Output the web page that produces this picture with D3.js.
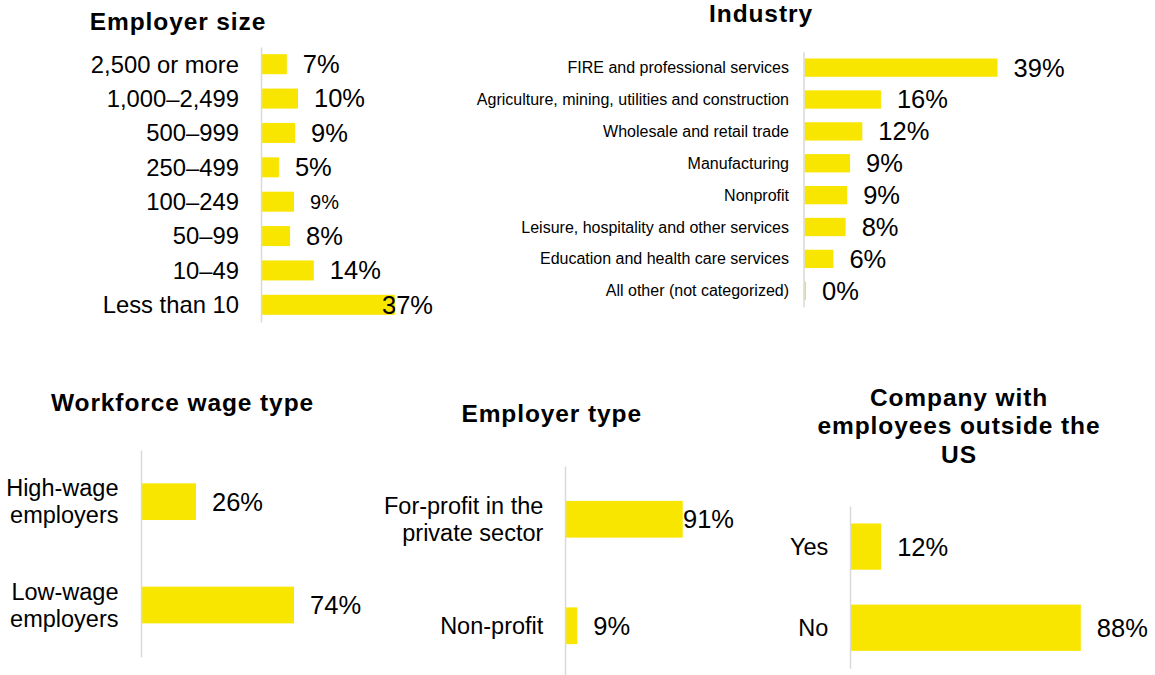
<!DOCTYPE html>
<html>
<head>
<meta charset="utf-8">
<title>Employer profile</title>
<script src="https://cdn.jsdelivr.net/npm/d3@7"></script>
<style>
  body { margin: 0; background: #fff; }
  text { font-family: "Liberation Sans", Arial, sans-serif; }
</style>
</head>
<body>
<script>
// values (percent of employers)
var sizeCategories = ["2,500 or more", "1,000–2,499", "500–999", "250–499", "100–249", "50–99", "10–49", "Less than 10"];
var sizeValues = [6.9, 10.0, 9.2, 4.7, 8.9, 7.8, 14.4, 36.9];

var industryCategories = ["FIRE and professional services", "Agriculture, mining, utilities and construction",
  "Wholesale and retail trade", "Manufacturing", "Nonprofit", "Leisure, hospitality and other services",
  "Education and health care services", "All other (not categorized)"];
var industryValues = [39.4, 15.6, 11.8, 9.3, 8.7, 8.4, 5.9, 0.3];

var wageCategories = ["High-wage\nemployers", "Low-wage\nemployers"];
var wageValues = [26.2, 73.8];

var typeCategories = ["For-profit in the\nprivate sector", "Non-profit"];
var typeValues = [91.2, 8.8];

var abroadCategories = ["Yes", "No"];
var abroadValues = [11.6, 88.4];

// page layout
var width = 1155, height = 675;
var barColor = "#f9e600";
var axisColor = "#d9d9d9";

var svg = d3.select("body").append("svg")
  .attr("width", width)
  .attr("height", height);

var panels = [
  { title: ["Employer size"], tx: 178, ty: 29.5, cats: sizeCategories, vals: sizeValues,
    axisX: 261, top: 47, bottom: 322, pad: 0.418, ppu: 3.6, catSize: 23.8, catPad: 22,
    labelMax: 382, smallLabel: 4 },
  { title: ["Industry"], tx: 761, ty: 22, cats: industryCategories, vals: industryValues,
    axisX: 803.5, top: 51.7, bottom: 306.7, pad: 0.426, ppu: 4.9, catSize: 16, catPad: 14.5,
    labelMax: Infinity },
  { title: ["Workforce wage type"], tx: 182.5, ty: 410.5, cats: wageCategories, vals: wageValues,
    axisX: 141, top: 450, bottom: 656.7, pad: 0.645, ppu: 2.06, catSize: 23.5, catPad: 22.5,
    labelMax: Infinity },
  { title: ["Employer type"], tx: 551.7, ty: 421.7, cats: typeCategories, vals: typeValues,
    axisX: 565, top: 466, bottom: 679, pad: 0.655, ppu: 1.28, catSize: 23.5, catPad: 21.7,
    labelMax: 683 },
  { title: ["Company with", "employees outside the", "US"], tx: 959, ty: 405.7, cats: abroadCategories, vals: abroadValues,
    axisX: 850, top: 506, bottom: 668.3, pad: 0.43, ppu: 2.6, catSize: 23.5, catPad: 21.7,
    labelMax: Infinity }
];

var labelSize = 25.5;
var lineHeight = 27;

panels.forEach(function(p) {
  var y = d3.scaleBand()
    .domain(p.cats)
    .range([p.top, p.bottom])
    .paddingInner(p.pad)
    .paddingOuter(p.pad / 2);

  var x = d3.scaleLinear()
    .domain([0, 100])
    .range([p.axisX + 1, p.axisX + 1 + 100 * p.ppu]);

  var data = p.cats.map(function(c, i) { return { cat: c, val: p.vals[i], i: i }; });

  // title
  var title = svg.append("text")
    .attr("text-anchor", "middle")
    .attr("x", p.tx)
    .attr("y", p.ty)
    .style("font-size", "24.5px")
    .style("font-weight", "bold")
    .style("letter-spacing", "0.9px")
    .attr("fill", "#000");
  p.title.forEach(function(line, i) {
    title.append("tspan").attr("x", p.tx).attr("y", p.ty + i * 28.5).text(line);
  });

  // bars
  svg.append("g").selectAll("rect").data(data).enter().append("rect")
    .attr("x", x(0))
    .attr("y", function(d) { return y(d.cat); })
    .attr("width", function(d) { return x(d.val) - x(0); })
    .attr("height", y.bandwidth())
    .attr("fill", barColor);

  // category axis, the domain line is the grey baseline
  var axis = d3.axisLeft(y).tickSize(0).tickSizeOuter(0).tickPadding(p.catPad);
  var g = svg.append("g")
    .attr("transform", "translate(" + p.axisX + ",0)")
    .attr("font-family", null)
    .call(axis);
  g.select(".domain").attr("stroke", axisColor).attr("stroke-width", 1.5);
  g.selectAll(".tick text")
    .attr("fill", "#000")
    .style("font-size", p.catSize + "px")
    .each(function(d) {
      var lines = d.split("\n");
      var t = d3.select(this).text(null).attr("dy", null);
      lines.forEach(function(line, i) {
        t.append("tspan")
          .attr("x", -p.catPad)
          .attr("y", 0.35 * p.catSize + (i - (lines.length - 1) / 2) * lineHeight)
          .text(line);
      });
    });

  // value labels
  svg.append("g").selectAll("text").data(data).enter().append("text")
    .attr("x", function(d) { return Math.min(x(d.val) + 16, p.labelMax); })
    .attr("y", function(d) { return y(d.cat) + y.bandwidth() / 2; })
    .attr("dy", "0.35em")
    .attr("fill", "#000")
    .style("font-size", function(d) { return (d.i === p.smallLabel ? 20 : labelSize) + "px"; })
    .text(function(d) { return Math.round(d.val) + "%"; });
});
</script>
</body>
</html>
